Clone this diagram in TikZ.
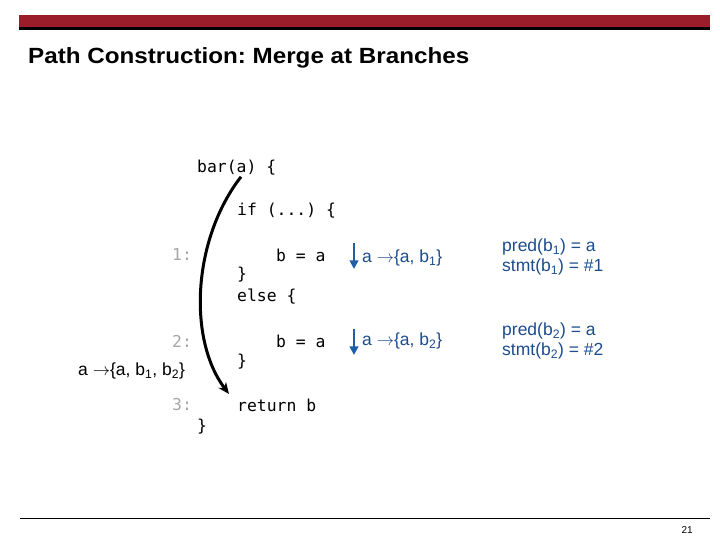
\documentclass[tikz,border=0pt]{standalone}
\usepackage{fontspec}
\setmainfont{Liberation Sans}
\newfontfamily\codefont{DejaVu Sans Mono}
\newfontfamily\titlefont[FakeStretch=1.1]{Liberation Sans}
\newcommand{\toset}{$\rightarrow$}
\usetikzlibrary{arrows.meta, positioning, calc}
\definecolor{slidered}{HTML}{9B1D2B}
\definecolor{numgray}{HTML}{A6A6A6}
\definecolor{noteblue}{HTML}{1C4C8C}
\definecolor{arrowblue}{HTML}{1F5FA8}
\tikzset{
  code/.style={anchor=west, inner sep=0pt, font=\codefont\fontsize{16.4}{18}\selectfont},
  lineno/.style={code, text=numgray},
  note/.style={anchor=west, inner sep=0pt, font=\fontsize{17.5}{20}\selectfont, text=noteblue},
  fact/.style={note, align=left},
  flow/.style={-{Stealth[length=4mm, width=3.4mm]}, line width=3pt, draw=black},
  flowb/.style={-{Triangle[length=3mm, width=3mm]}, line width=2.8pt, draw=arrowblue},
}

\begin{document}
\frenchspacing
\begin{tikzpicture}[x=1pt, y=1pt]
  \useasboundingbox (0,0) rectangle (720,540);
  % header
  \fill[slidered] (19,513) rectangle (710,525);
  \fill[black] (19,510) rectangle (710,512.5);
  \node[anchor=west, inner sep=0pt, font=\titlefont\fontsize{22}{24}\bfseries] (title) at (28,482)
    {Path Construction: Merge at Branches};
  % code
  \node[code] (bar) at (197,372) {bar(a) \{};
  \node[code] (if) at (237,329) {if (...) \{};
  \node[lineno] (n1) at (172,285) {1:};
  \node[code] (asg1) at (276,285) {b = a};
  \node[code] (close1) at (237,265) {\}};
  \node[code] (else) at (237,243) {else \{};
  \node[lineno] (n2) at (172,199) {2:};
  \node[code] (asg2) at (276,199) {b = a};
  \node[code] (close2) at (237,178) {\}};
  \node[lineno] (n3) at (172,135) {3:};
  \node[code] (ret) at (237,135) {return b};
  \node[code] (close3) at (197,113) {\}};
  % merged set
  \node[note, text=black] (merge) at (78,169) {a \toset\{a, b\textsubscript{1}, b\textsubscript{2}\}};
  % branch sets
  \node[note] (set1) at (362,282) {a \toset\{a, b\textsubscript{1}\}};
  \node[note] (set2) at (362,199) {a \toset\{a, b\textsubscript{2}\}};
  \node[fact] (fact1) at (502,283) {pred(b\textsubscript{1}) = a\\stmt(b\textsubscript{1}) = \#1};
  \node[fact] (fact2) at (502,199) {pred(b\textsubscript{2}) = a\\stmt(b\textsubscript{2}) = \#2};
  % arrows
  \coordinate (top1) at ($(set1.west)+(-8,15)$);
  \coordinate (bot1) at ($(set1.west)+(-8,-11)$);
  \coordinate (top2) at ($(set2.west)+(-8,12)$);
  \coordinate (bot2) at ($(set2.west)+(-8,-14)$);
  \draw[flowb] (top1) -- (bot1);
  \draw[flowb] (top2) -- (bot2);
  \coordinate (from) at ($(bar.south west)+(44,-1)$);
  \coordinate (to) at ($(ret.west)+(-8,11)$);
  \draw[flow] (from) .. controls (192,300) and (188,200) .. (to);
  % footer
  \draw[line width=1pt] (20,21) -- (710,21);
  \node[anchor=east, inner sep=0pt, font=\fontsize{10}{12}\selectfont] (page) at (693,10) {21};
\end{tikzpicture}
\end{document}
